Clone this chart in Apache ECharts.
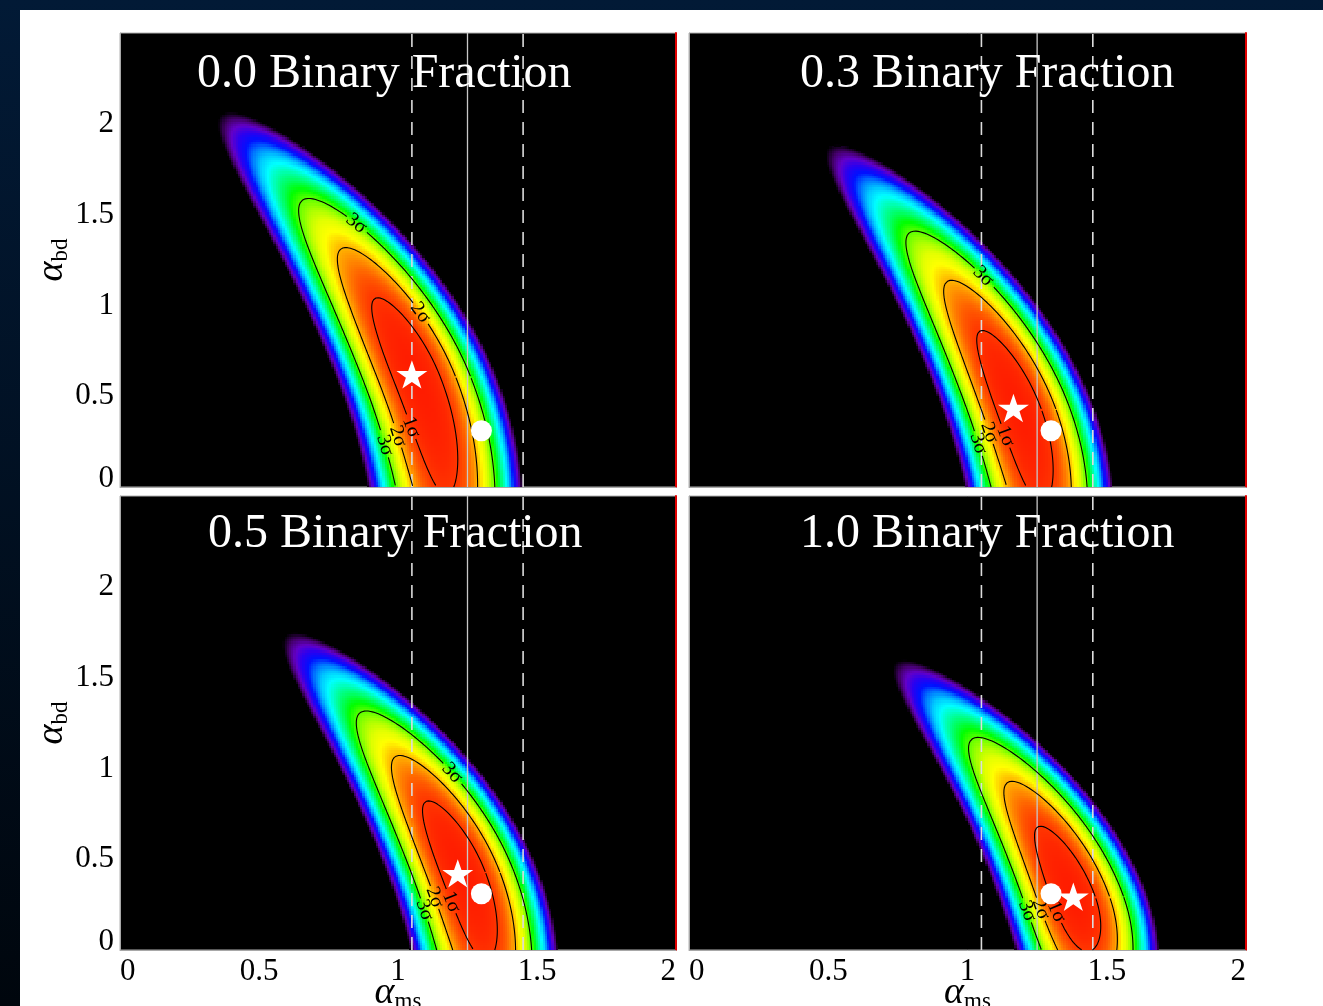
<!DOCTYPE html>
<html lang="en">
<head>
<meta charset="UTF-8">
<title>Binary fraction likelihood maps</title>
<script src="https://cdn.jsdelivr.net/npm/echarts@6/dist/echarts.min.js"></script>
<style>
    html, body { margin: 0; padding: 0; }
    body { width: 1323px; height: 1006px; overflow: hidden; position: relative;
           background: linear-gradient(#021a36, #00060d); }
    #sheet { position: absolute; left: 20px; top: 10px; right: 0; bottom: 0; background: #fff; }
    #main { position: absolute; left: 0; top: 0; width: 1323px; height: 1006px; }
</style>
</head>
<body>
<div id="sheet"></div>
<div id="main"></div>
<script>
    // four panels, one per binary fraction
    var panelNames = ['0.0 Binary Fraction', '0.3 Binary Fraction', '0.5 Binary Fraction', '1.0 Binary Fraction'];

    // ridge of the likelihood: alpha_ms of the ridge centre at alpha_bd = 0, 1, 2
    var ridgeAt0 = [1.17, 1.257, 1.31, 1.43];
    var ridgeAt1 = [0.943, 1.001, 1.038, 1.126];
    var ridgeAt2 = [0.437, 0.452, 0.448, 0.459];
    // peak alpha_bd, spread up / down the ridge and across it
    var peakBd = [0.61, 0.43, 0.43, 0.295];
    var spreadUp = [0.285, 0.285, 0.258, 0.255];
    var spreadDown = [0.43, 0.34, 0.32, 0.20];
    var spreadAcross = [0.057, 0.054, 0.054, 0.053];

    // best fit (star) per panel, input value (circle)
    var bestFit = [[1.05, 0.62], [1.165, 0.435], [1.215, 0.422], [1.38, 0.293]];
    var inputValue = [1.30, 0.31];

    // vertical reference lines in alpha_ms
    var dashedLines = [1.05, 1.45];
    var solidLines = [1.25];

    // contours: delta chi2 for 1, 2, 3 sigma with two parameters
    var sigmaNames = ['1σ', '2σ', '3σ'];
    var sigmaLevels = [2.30, 6.18, 11.8];
    var colourFloor = 26;   // delta chi2 where the colour runs out to black

    // contour labels: [level, side (-1 left / 1 right), alpha_bd]
    var contourLabels = [
        [[2, 1, 1.45], [1, 1, 0.96], [0, -1, 0.33], [1, -1, 0.28], [2, -1, 0.23]],
        [[2, 1, 1.16], [0, -1, 0.28], [1, -1, 0.30], [2, -1, 0.24]],
        [[2, 1, 0.975], [0, -1, 0.265], [1, -1, 0.29], [2, -1, 0.22]],
        [[0, -1, 0.21], [1, -1, 0.225], [2, -1, 0.215]]
    ];

    var xMax = 2, yMax = 2.5, tickStep = 0.5;

    // layout
    var gridRects = [
        {left: 120, top: 33, width: 556, height: 454},
        {left: 689, top: 33, width: 557, height: 454},
        {left: 120, top: 496, width: 556, height: 454},
        {left: 689, top: 496, width: 557, height: 454}
    ];
    var titleLeft = [197, 800, 208, 800];
    var titleTop = [50, 50, 510, 510];

    var FONT = '"Liberation Serif", "Times New Roman", serif';
    var colourStops = ['#000000', '#44006a', '#6400c8', '#2a00f0', '#0010ff', '#0078ff',
        '#00c8ff', '#00ffff', '#00ffb0', '#00ff60', '#00ff00', '#60ff00', '#a8ff00',
        '#e0ff00', '#ffff00', '#ffc000', '#ff9000', '#ff6000', '#ff3c00', '#ff2800', '#ff1c00'];

    var DX = 0.008, DY = 0.0125;

    function ridgeX(p, y) {
        var c0 = ridgeAt0[p], c1 = ridgeAt1[p], c2 = ridgeAt2[p];
        var b = -1.5 * c0 + 2 * c1 - 0.5 * c2;
        var c = 0.5 * c0 - c1 + 0.5 * c2;
        return c0 + b * y + c * y * y;
    }
    function alongRidge(p, y) {
        var d = y - peakBd[p];
        return d / (d > 0 ? spreadUp[p] : spreadDown[p]);
    }
    function chi2(p, x, y) {
        var u = (x - ridgeX(p, y)) / spreadAcross[p];
        var a = alongRidge(p, y);
        return u * u + a * a;
    }

    function buildCells(p) {
        var out = [];
        var nx = Math.round(xMax / DX), ny = Math.round(yMax / DY);
        for (var j = 0; j < ny; j++) {
            var y = (j + 0.5) * DY;
            for (var i = 0; i < nx; i++) {
                var x = (i + 0.5) * DX;
                var t = 1 - chi2(p, x, y) / colourFloor;
                if (t > 0) out.push([x, y, t]);
            }
        }
        return out;
    }

    function contourPoint(p, k, th) {
        var r = Math.sqrt(sigmaLevels[k]);
        var a = r * Math.sin(th);
        var y = peakBd[p] + a * (a > 0 ? spreadUp[p] : spreadDown[p]);
        return [ridgeX(p, y) + spreadAcross[p] * r * Math.cos(th), y];
    }
    function labelPoint(p, k, side, y) {
        var a = alongRidge(p, y);
        var w = Math.max(sigmaLevels[k] - a * a, 0);
        return [ridgeX(p, y) + side * spreadAcross[p] * Math.sqrt(w), y];
    }
    function pxScale(p) {
        return [gridRects[p].width / xMax, gridRects[p].height / yMax];
    }
    // text angle (radians, counter-clockwise) following the contour
    function labelAngle(p, k, side, y) {
        var s = pxScale(p);
        var a0 = labelPoint(p, k, side, y - 0.01), a1 = labelPoint(p, k, side, y + 0.01);
        var sx = (a1[0] - a0[0]) * s[0], sy = -(a1[1] - a0[1]) * s[1];
        if (sx < 0) { sx = -sx; sy = -sy; }
        return Math.atan2(-sy, sx);
    }
    function crossZero(a, b) {
        var f = a[1] / (a[1] - b[1]);
        return [a[0] + f * (b[0] - a[0]), 0];
    }
    function contourPieces(p, k) {
        var s = pxScale(p);
        var labs = contourLabels[p].filter(function (l) { return l[0] === k; })
            .map(function (l) { return labelPoint(p, k, l[1], l[2]); });
        var pieces = [], cur = [], prev = null, N = 900;
        for (var n = 0; n <= N; n++) {
            var pt = contourPoint(p, k, n / N * 2 * Math.PI);
            var nearLabel = labs.some(function (l) {
                var dx = (pt[0] - l[0]) * s[0], dy = (pt[1] - l[1]) * s[1];
                return Math.sqrt(dx * dx + dy * dy) < 12;
            });
            if (pt[1] < 0 || nearLabel) {
                if (cur.length) {
                    if (pt[1] < 0 && prev) cur.push(crossZero(prev, pt));
                    pieces.push(cur);
                    cur = [];
                }
            } else {
                if (!cur.length && prev && prev[1] < 0) cur.push(crossZero(prev, pt));
                cur.push(pt);
            }
            prev = pt;
        }
        if (cur.length) pieces.push(cur);
        return pieces;
    }

    function renderCell(params, api) {
        var x = api.value(0), y = api.value(1);
        var p0 = api.coord([x - DX / 2, y + DY / 2]);
        var p1 = api.coord([x + DX / 2, y - DY / 2]);
        var l = Math.round(p0[0]), t = Math.round(p0[1]);
        var r = Math.round(p1[0]), b = Math.round(p1[1]);
        return {
            type: 'rect',
            shape: {x: l, y: t, width: r - l, height: b - t},
            style: {fill: api.visual('color')}
        };
    }
    function renderContourLabel(params, api) {
        var pt = api.coord([api.value(0), api.value(1)]);
        var lvl = api.value(2);
        return {
            type: 'text', x: pt[0], y: pt[1], rotation: api.value(3),
            style: {
                text: sigmaNames[lvl], fill: '#000', font: '20px ' + FONT,
                align: 'center', verticalAlign: 'middle'
            }
        };
    }

    var starPath = 'path://M50,0 L61.8,35.4 L99,35.4 L69,57.3 L80.3,92.7 L50,70.8 L19.7,92.7 L31,57.3 L1,35.4 L38.2,35.4 Z';

    var grids = [], xAxes = [], yAxes = [], titles = [], series = [], cellSeries = [];

    for (var p = 0; p < 4; p++) {
        var isLeft = (p % 2 === 0), isBottom = (p >= 2);
        grids.push({
            left: gridRects[p].left, top: gridRects[p].top,
            width: gridRects[p].width, height: gridRects[p].height,
            containLabel: false, outerBoundsMode: 'none',
            show: true, backgroundColor: '#000', borderColor: '#b0b0b0', borderWidth: 1
        });
        xAxes.push({
            type: 'value', gridIndex: p, min: 0, max: xMax, interval: tickStep,
            axisLine: {show: true, lineStyle: {color: '#a8a8a8', width: 1}},
            axisTick: {show: false}, splitLine: {show: false},
            axisLabel: {
                show: isBottom, color: '#000', fontFamily: FONT, fontSize: 31, margin: 6,
                alignMinLabel: 'left', alignMaxLabel: 'right',
                formatter: function (v) { return String(v); }
            },
            name: isBottom ? '{a|α}{s|ms}' : '',
            nameLocation: 'middle', nameGap: 24, nameMoveOverlap: false,
            nameTextStyle: {
                rich: {
                    a: {fontFamily: FONT, fontStyle: 'italic', fontSize: 38, color: '#000'},
                    s: {fontFamily: FONT, fontSize: 23, color: '#000', padding: [16, 0, 0, 0]}
                }
            }
        });
        yAxes.push({
            type: 'value', gridIndex: p, min: 0, max: yMax, interval: tickStep,
            axisLine: {show: true, lineStyle: {color: '#a8a8a8', width: 1}},
            axisTick: {show: false}, splitLine: {show: false},
            axisLabel: {
                show: isLeft, color: '#000', fontFamily: FONT, fontSize: 31, margin: 6,
                lineHeight: 16, verticalAlignMinLabel: 'bottom',
                formatter: function (v) { return v >= yMax ? '' : String(v); }
            },
            name: isLeft ? '{a|α}{s|bd}' : '',
            nameLocation: 'middle', nameRotate: 90, nameGap: 48, nameMoveOverlap: false,
            nameTextStyle: {
                rich: {
                    a: {fontFamily: FONT, fontStyle: 'italic', fontSize: 38, color: '#000'},
                    s: {fontFamily: FONT, fontSize: 23, color: '#000', padding: [16, 0, 0, 0]}
                }
            }
        });
        // red right-hand frame
        yAxes.push({
            type: 'value', gridIndex: p, position: 'right', min: 0, max: yMax,
            axisLine: {show: true, lineStyle: {color: '#e00000', width: 2}},
            axisTick: {show: false}, axisLabel: {show: false}, splitLine: {show: false}
        });
        titles.push({
            text: panelNames[p], left: titleLeft[p], top: titleTop[p], padding: 0,
            textStyle: {color: '#fff', fontFamily: FONT, fontSize: 48, fontWeight: 'normal'}
        });

        var yIdx = 2 * p;

        cellSeries.push(series.length);
        series.push({
            type: 'custom', xAxisIndex: p, yAxisIndex: yIdx, z: 1,
            renderItem: renderCell, silent: true,
            dimensions: ['x', 'y', 't'], encode: {x: 0, y: 1},
            data: buildCells(p)
        });

        dashedLines.forEach(function (v) {
            series.push({
                type: 'line', xAxisIndex: p, yAxisIndex: yIdx, z: 2, silent: true,
                showSymbol: false, data: [[v, 0], [v, yMax]],
                lineStyle: {color: '#dcdcdc', width: 1.6, type: [13, 9]}
            });
        });
        solidLines.forEach(function (v) {
            series.push({
                type: 'line', xAxisIndex: p, yAxisIndex: yIdx, z: 2, silent: true,
                showSymbol: false, data: [[v, 0], [v, yMax]],
                lineStyle: {color: '#c8c8c8', width: 1.3}
            });
        });

        for (var k = 0; k < sigmaLevels.length; k++) {
            contourPieces(p, k).forEach(function (piece) {
                series.push({
                    type: 'line', xAxisIndex: p, yAxisIndex: yIdx, z: 3, silent: true,
                    showSymbol: false, data: piece,
                    lineStyle: {color: '#000', width: 1.1}
                });
            });
        }

        series.push({
            type: 'custom', xAxisIndex: p, yAxisIndex: yIdx, z: 4, silent: true,
            renderItem: renderContourLabel,
            dimensions: ['x', 'y', 'level', 'angle'], encode: {x: 0, y: 1},
            data: contourLabels[p].map(function (l) {
                var pt = labelPoint(p, l[0], l[1], l[2]);
                return [pt[0], pt[1], l[0], labelAngle(p, l[0], l[1], l[2])];
            })
        });

        series.push({
            type: 'scatter', xAxisIndex: p, yAxisIndex: yIdx, z: 5, silent: true,
            symbol: 'circle', symbolSize: 21, itemStyle: {color: '#fff', opacity: 1},
            data: [inputValue]
        });
        series.push({
            type: 'scatter', xAxisIndex: p, yAxisIndex: yIdx, z: 6, silent: true,
            symbol: starPath, symbolKeepAspect: true, symbolSize: [31, 30],
            itemStyle: {color: '#fff', opacity: 1},
            data: [bestFit[p]]
        });
    }

    var myChart = echarts.init(document.getElementById('main'), null, {renderer: 'canvas'});
    myChart.setOption({
        animation: false,
        backgroundColor: 'transparent',
        title: titles,
        grid: grids,
        xAxis: xAxes,
        yAxis: yAxes,
        visualMap: {
            show: false, type: 'continuous', min: 0, max: 1, dimension: 2,
            seriesIndex: cellSeries, inRange: {color: colourStops}
        },
        series: series
    });
</script>
</body>
</html>
